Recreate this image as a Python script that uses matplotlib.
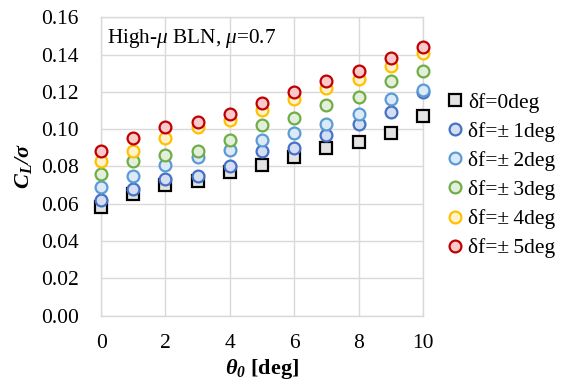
import matplotlib
matplotlib.use("Agg")
import matplotlib.pyplot as plt

plt.rcParams['font.family'] = ['Liberation Serif', 'DejaVu Serif']
plt.rcParams['mathtext.fontset'] = 'custom'
plt.rcParams['mathtext.rm'] = 'Liberation Serif'
plt.rcParams['mathtext.it'] = 'Liberation Serif:italic'
plt.rcParams['mathtext.bf'] = 'Liberation Serif:bold:italic'

theta = [0, 1, 2, 3, 4, 5, 6, 7, 8, 9, 10]
df0 = [0.058, 0.065, 0.070, 0.072, 0.077, 0.081, 0.085, 0.090, 0.093, 0.098, 0.107]
df1 = [0.062, 0.068, 0.073, 0.075, 0.080, 0.088, 0.090, 0.097, 0.103, 0.109, 0.120]
df2 = [0.069, 0.075, 0.081, 0.085, 0.089, 0.094, 0.098, 0.103, 0.108, 0.116, 0.121]
df3 = [0.076, 0.083, 0.086, 0.088, 0.094, 0.102, 0.106, 0.113, 0.117, 0.126, 0.131]
df4 = [0.083, 0.088, 0.095, 0.101, 0.105, 0.110, 0.116, 0.122, 0.127, 0.134, 0.141]
df5 = [0.088, 0.095, 0.101, 0.104, 0.108, 0.114, 0.120, 0.126, 0.131, 0.138, 0.144]

labels = ['δf=0deg', 'δf=±\u20091deg', 'δf=±\u20092deg', 'δf=±\u20093deg',
          'δf=±\u20094deg', 'δf=±\u20095deg']
series = [df0, df1, df2, df3, df4, df5]
markers = ['s', 'o', 'o', 'o', 'o', 'o']
edges = ['#000000', '#4472C4', '#5B9BD5', '#70AD47', '#FFC000', '#C00000']
faces = ['#E3E3E3', '#D5DEF3', '#DCEAF7', '#E2EFDA', '#FFF2CC', '#F9C9CC']

fig = plt.figure(figsize=(5.71, 3.83), dpi=100)
ax = fig.add_axes([0.177, 0.176, 0.564, 0.779])

for y, m, ec, fc, lab in zip(series, markers, edges, faces, labels):
    ax.plot(theta, y, linestyle='none', marker=m, markersize=8.5 if m == 'o' else 8,
            markeredgewidth=1.6, markeredgecolor=ec, markerfacecolor=fc, label=lab,
            clip_on=False, zorder=3)

ax.set_xlim(0, 10)
ax.set_ylim(0, 0.16)
ax.set_xticks([0, 2, 4, 6, 8, 10])
ax.set_yticks([0, 0.02, 0.04, 0.06, 0.08, 0.10, 0.12, 0.14, 0.16])
ax.set_yticklabels([f'{v:.2f}' for v in ax.get_yticks()])
ax.grid(True, color='#D9D9D9', linewidth=1.0)
ax.set_axisbelow(True)
for s in ax.spines.values():
    s.set_color('#D9D9D9')
    s.set_linewidth(1.0)
ax.tick_params(length=0, labelsize=15.5)
ax.tick_params(axis='y', pad=16)
ax.tick_params(axis='x', pad=13)

ax.set_xlabel(r'$\mathbf{\theta_0}$ [deg]', fontsize=16, fontweight='bold', labelpad=3)
ax.set_ylabel(r'$\mathbf{C_L/\sigma}$', fontsize=16, labelpad=5)

ax.text(0.017, 0.93, r'High-$\mu$ BLN, $\mu$=0.7', transform=ax.transAxes,
        fontsize=15.3, va='center', ha='left')

ax.legend(loc='center left', bbox_to_anchor=(1.0, 0.47), frameon=False,
          fontsize=15.5, handletextpad=0.1, handlelength=1.0, labelspacing=0.42,
          borderaxespad=0.6)

fig.savefig('out.png', dpi=100)
